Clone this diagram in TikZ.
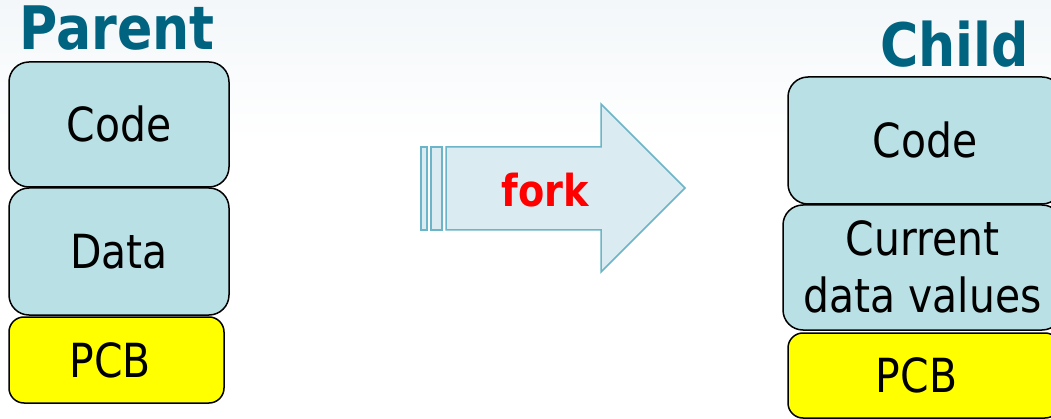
\documentclass[tikz,border=0pt]{standalone}
\usepackage{fontspec}
\setmainfont[FakeStretch=0.87]{DejaVu Sans}
\definecolor{boxcyan}{RGB}{185,224,228}
\definecolor{titleteal}{RGB}{0,99,128}
\definecolor{arrowfill}{RGB}{219,235,242}
\definecolor{arrowline}{RGB}{108,180,200}
\definecolor{haze}{RGB}{243,247,249}
\definecolor{pcbyellow}{RGB}{255,255,0}
\begin{document}
\begin{tikzpicture}[x=1pt,y=-1pt,
  membox/.style={draw=black, line width=1.5pt, rounded corners=20pt, inner sep=0pt,
    font=\fontsize{47}{57}\selectfont, text height=34pt, text depth=0pt, align=center},
  cyanbox/.style={membox, fill=boxcyan},
  pcbbox/.style={membox, fill=pcbyellow, rounded corners=15pt},
  titletext/.style={font=\bfseries\fontsize{60}{66}\selectfont, text=titleteal, anchor=base west, inner sep=0pt},
  arrowpart/.style={draw=arrowline, fill=arrowfill, line width=1.5pt, line join=miter},
  forktext/.style={font=\bfseries\fontsize{44}{50}\selectfont, text=red, anchor=base, inner sep=0pt}]
\useasboundingbox (0,0) rectangle (1051,419);
\clip (0,0) rectangle (1051,419);
\fill[white] (0,0) rectangle (1051,419);
\fill[top color=haze, bottom color=white] (0,0) rectangle (1051,140);

% Parent
\node[titletext] (ptitle) at (19,50) {Parent};
\node[cyanbox, minimum width=220pt, minimum height=125pt] (pcode) at (119,124.5) {Code};
\node[cyanbox, minimum width=220pt, minimum height=127pt] (pdata) at (119,251.5) {Data};
\node[pcbbox, minimum width=215pt, minimum height=86pt] (ppcb) at (116.5,360) {\kern-13pt PCB};

% Child
\node[titletext] (ctitle) at (880,67) {Child};
\node[cyanbox, minimum width=274pt, minimum height=127pt] (ccode) at (925,140.5) {Code};
\node[cyanbox, minimum width=279pt, minimum height=125pt, text height=90pt, text depth=0pt] (cdata) at (922.5,267.5) {Current\\data values};
\node[pcbbox, minimum width=272pt, minimum height=85pt] (cpcb) at (924,375.5) {\kern-15pt PCB};

% fork arrow
\draw[arrowpart] (421,147) rectangle (427,230);
\draw[arrowpart] (431,147) rectangle (442,230);
\draw[arrowpart] (446,147) -- (601,147) -- (601,104) -- (685,188) -- (601,272) -- (601,230) -- (446,230) -- cycle;
\node[forktext] (fork) at (545,207) {fork};
\end{tikzpicture}
\end{document}
